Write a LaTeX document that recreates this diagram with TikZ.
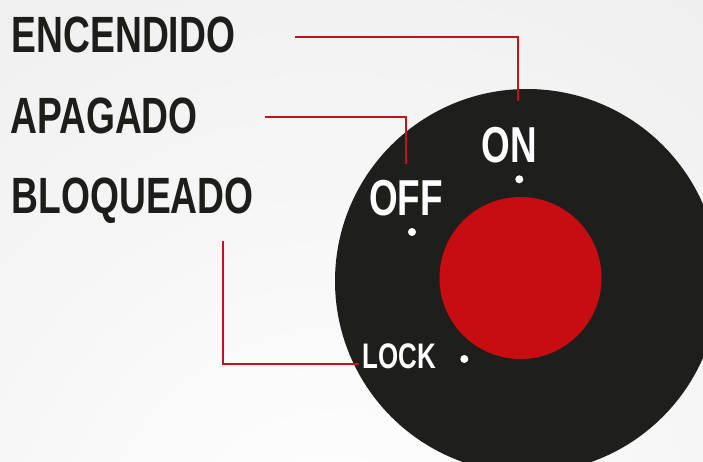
\documentclass[tikz,border=0pt]{standalone}
\usepackage{fontspec}
\setmainfont{Liberation Sans}[FakeStretch=0.73]
\newfontfamily\condbold{Liberation Sans Bold}[FakeStretch=0.73]
\definecolor{dialblack}{HTML}{1E1E1D}
\definecolor{dialred}{HTML}{C80D12}
\definecolor{linered}{HTML}{C8101A}
\definecolor{textdark}{HTML}{1D1D1B}
\definecolor{bgtl}{HTML}{EEEEEE}
\tikzset{
  biglabel/.style={anchor=base west, inner sep=0pt, text=textdark, font=\condbold\fontsize{51}{52}\selectfont},
  diallabel/.style={anchor=base, inner sep=0pt, text=white, font=\condbold\fontsize{50.5}{52}\selectfont},
  smalldiallabel/.style={anchor=base, inner sep=0pt, text=white, font=\condbold\fontsize{35.5}{36}\selectfont},
  redline/.style={draw=linered, line width=2.2pt},
  whitedot/.style={circle, fill=white, inner sep=0pt, minimum size=8pt},
}
\begin{document}
\begin{tikzpicture}[x=1pt, y=-1pt]
\useasboundingbox (0,0) rectangle (703,462);
\clip (0,0) rectangle (703,462);
\fill[white] (0,0) rectangle (703,462);
\shade[inner color=white, outer color=bgtl] (330,560) circle (720pt);
% dial
\fill[dialblack] (527,281) circle (192pt);
\fill[dialred] (520.5,278) circle (81pt);
\node[whitedot] (dotOn) at (519.3,179.3) {};
\node[whitedot] (dotOff) at (412,232) {};
\node[whitedot] (dotLock) at (464.3,359) {};
\node[diallabel] (on) at (509,162.3) {ON};
\node[diallabel] (off) at (406,215) {OFF};
\node[smalldiallabel] (lock) at (399,368) {LOCK};
% labels
\node[biglabel] (encendido) at (11.5,52.3) {ENCENDIDO};
\node[biglabel] (apagado) at (10,134) {APAGADO};
\node[biglabel] (bloqueado) at (11.5,213.3) {BLOQUEADO};
% connectors
\coordinate (e1) at (295,37);
\coordinate (e2) at (518,101);
\coordinate (a1) at (265,117.3);
\coordinate (a2) at (406,164);
\coordinate (b1) at (223.3,240.7);
\coordinate (b2) at (359,364);
\draw[redline] (e1) -| (e2);
\draw[redline] (a1) -| (a2);
\draw[redline] (b1) |- (b2);
\end{tikzpicture}
\end{document}
